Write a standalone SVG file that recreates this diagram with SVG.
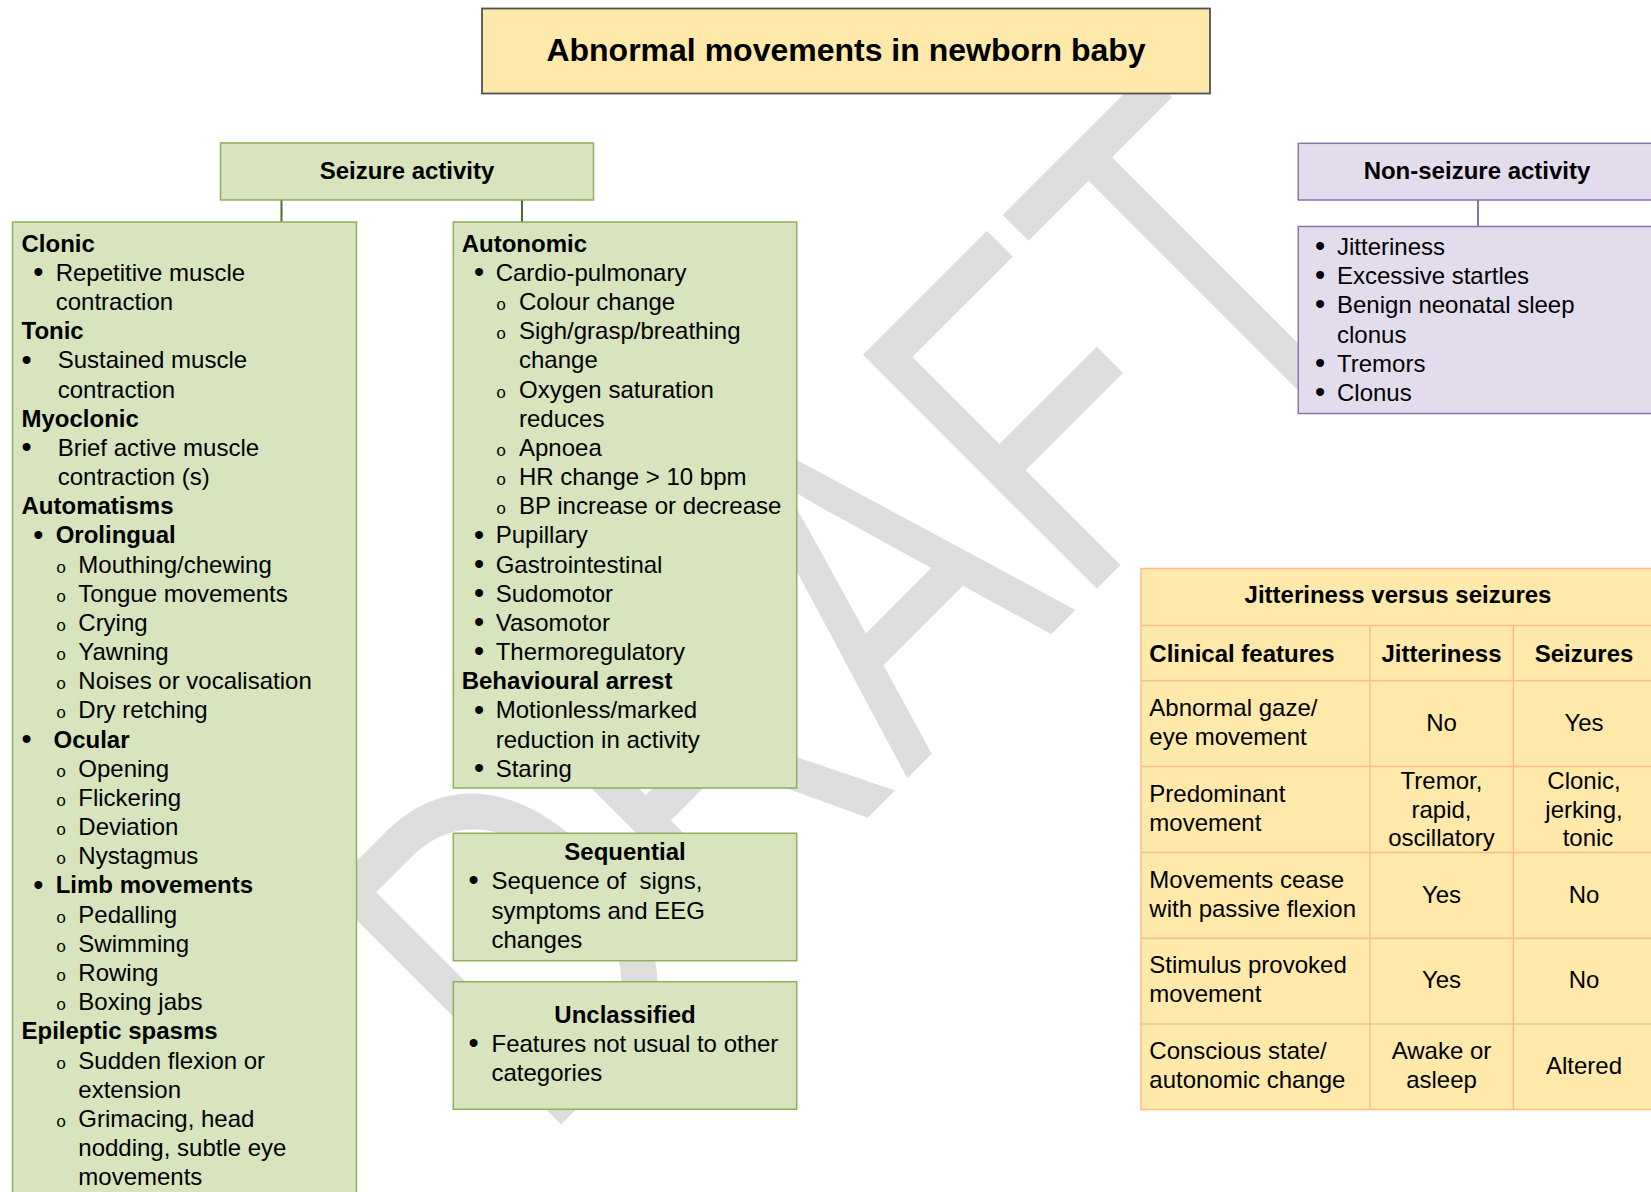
<svg xmlns="http://www.w3.org/2000/svg" width="1651" height="1192" viewBox="0 0 1651 1192">
<style>
text{font-family:"Liberation Sans",Arial,sans-serif;fill:#000;font-size:24px}
.b{font-weight:bold}
.c{text-anchor:middle}
.o{font-family:"Liberation Mono","Courier New",monospace;font-size:17px;text-anchor:middle}
.d{text-anchor:middle;font-size:29px}
.g{fill:#d7e4bd;stroke:#8fb05a;stroke-width:1.5}
.p{fill:#e2dced;stroke:#8a72ac;stroke-width:1.5}
.y{fill:#fee9aa;stroke:#f9bd8c;stroke-width:1.5}
.ln{stroke:#f9bd8c;stroke-width:1.5}
.con{stroke:#4f6a2b;stroke-width:2;fill:none}
.conp{stroke:#8a72ac;stroke-width:2;fill:none}
.wm{font-family:"Liberation Sans",Arial,sans-serif;font-size:481px;fill:#dddddd;font-kerning:none}
</style>

<g id="watermark">
<text class="wm" transform="translate(540.3,1145.3) rotate(-45) scale(0.746,1)">DRAFT</text>
</g>

<g id="connectors">
<line class="con" x1="281.5" y1="200" x2="281.5" y2="222"/>
<line class="con" x1="522" y1="200" x2="522" y2="222"/>
<line class="conp" x1="1478" y1="200" x2="1478" y2="226.5"/>
</g>

<g id="title">
<rect x="482" y="8.5" width="728" height="85" fill="#fee9aa" stroke="#505050" stroke-width="1.8"/>
<text class="b c" x="846" y="61" style="font-size:32px">Abnormal movements in newborn baby</text>
</g>

<g id="seizure-activity">
<rect class="g" x="220.5" y="143" width="373" height="57"/>
<text class="b c" x="407" y="179">Seizure activity</text>
</g>

<g id="seizure-left">
<rect class="g" x="12.5" y="222" width="344" height="990"/>
<text class="b" x="21.5" y="251.7">Clonic</text>
<text class="d" x="38.3" y="282">•</text><text x="55.7" y="280.9">Repetitive muscle</text>
<text x="55.7" y="310">contraction</text>
<text class="b" x="21.5" y="339.2">Tonic</text>
<text class="d" x="26.5" y="369.5">•</text><text x="57.7" y="368.4">Sustained muscle</text>
<text x="57.7" y="397.6">contraction</text>
<text class="b" x="21.5" y="426.7">Myoclonic</text>
<text class="d" x="26.5" y="457">•</text><text x="57.7" y="455.9">Brief active muscle</text>
<text x="57.7" y="485.1">contraction (s)</text>
<text class="b" x="21.5" y="514.2">Automatisms</text>
<text class="d" x="38.3" y="544.5">•</text><text class="b" x="55.7" y="543.4">Orolingual</text>
<text class="o" x="61" y="572.6">o</text><text x="78.3" y="572.6">Mouthing/chewing</text>
<text class="o" x="61" y="601.7">o</text><text x="78.3" y="601.7">Tongue movements</text>
<text class="o" x="61" y="630.9">o</text><text x="78.3" y="630.9">Crying</text>
<text class="o" x="61" y="660.1">o</text><text x="78.3" y="660.1">Yawning</text>
<text class="o" x="61" y="689.3">o</text><text x="78.3" y="689.3">Noises or vocalisation</text>
<text class="o" x="61" y="718.4">o</text><text x="78.3" y="718.4">Dry retching</text>
<text class="d" x="26.5" y="748.7">•</text><text class="b" x="53.5" y="747.6">Ocular</text>
<text class="o" x="61" y="776.8">o</text><text x="78.3" y="776.8">Opening</text>
<text class="o" x="61" y="805.9">o</text><text x="78.3" y="805.9">Flickering</text>
<text class="o" x="61" y="835.1">o</text><text x="78.3" y="835.1">Deviation</text>
<text class="o" x="61" y="864.3">o</text><text x="78.3" y="864.3">Nystagmus</text>
<text class="d" x="38.3" y="894.5">•</text><text class="b" x="55.7" y="893.4">Limb movements</text>
<text class="o" x="61" y="922.6">o</text><text x="78.3" y="922.6">Pedalling</text>
<text class="o" x="61" y="951.8">o</text><text x="78.3" y="951.8">Swimming</text>
<text class="o" x="61" y="981">o</text><text x="78.3" y="981">Rowing</text>
<text class="o" x="61" y="1010.1">o</text><text x="78.3" y="1010.1">Boxing jabs</text>
<text class="b" x="21.5" y="1039.3">Epileptic spasms</text>
<text class="o" x="61" y="1068.5">o</text><text x="78.3" y="1068.5">Sudden flexion or</text>
<text x="78.3" y="1097.6">extension</text>
<text class="o" x="61" y="1126.8">o</text><text x="78.3" y="1126.8">Grimacing, head</text>
<text x="78.3" y="1156">nodding, subtle eye</text>
<text x="78.3" y="1185.1">movements</text>
</g>

<g id="seizure-autonomic">
<rect class="g" x="453.3" y="222" width="343.4" height="566"/>
<text class="b" x="461.7" y="251.7">Autonomic</text>
<text class="d" x="479" y="282">•</text><text x="495.7" y="280.9">Cardio-pulmonary</text>
<text class="o" x="501" y="310">o</text><text x="519" y="310">Colour change</text>
<text class="o" x="501" y="339.2">o</text><text x="519" y="339.2">Sigh/grasp/breathing</text>
<text x="519" y="368.4">change</text>
<text class="o" x="501" y="397.6">o</text><text x="519" y="397.6">Oxygen saturation</text>
<text x="519" y="426.7">reduces</text>
<text class="o" x="501" y="455.9">o</text><text x="519" y="455.9">Apnoea</text>
<text class="o" x="501" y="485.1">o</text><text x="519" y="485.1">HR change &gt; 10 bpm</text>
<text class="o" x="501" y="514.2">o</text><text x="519" y="514.2">BP increase or decrease</text>
<text class="d" x="479" y="544.5">•</text><text x="495.7" y="543.4">Pupillary</text>
<text class="d" x="479" y="573.7">•</text><text x="495.7" y="572.6">Gastrointestinal</text>
<text class="d" x="479" y="602.8">•</text><text x="495.7" y="601.7">Sudomotor</text>
<text class="d" x="479" y="632">•</text><text x="495.7" y="630.9">Vasomotor</text>
<text class="d" x="479" y="661.2">•</text><text x="495.7" y="660.1">Thermoregulatory</text>
<text class="b" x="461.7" y="689.3">Behavioural arrest</text>
<text class="d" x="479" y="719.5">•</text><text x="495.7" y="718.4">Motionless/marked</text>
<text x="495.7" y="747.6">reduction in activity</text>
<text class="d" x="479" y="777.9">•</text><text x="495.7" y="776.8">Staring</text>
</g>

<g id="seizure-sequential">
<rect class="g" x="453.3" y="833.3" width="343.4" height="127.4"/>
<text class="b c" x="625" y="860.2">Sequential</text>
<text class="d" x="473.5" y="890.3">•</text><text x="491.5" y="889.2" xml:space="preserve" style="white-space:pre">Sequence of  signs,</text>
<text x="491.5" y="918.8">symptoms and EEG</text>
<text x="491.5" y="948.3">changes</text>
</g>

<g id="seizure-unclassified">
<rect class="g" x="453.3" y="981.7" width="343.4" height="127.6"/>
<text class="b c" x="625" y="1023.2">Unclassified</text>
<text class="d" x="473.5" y="1053.4">•</text><text x="491.5" y="1052.3">Features not usual to other</text>
<text x="491.5" y="1081.2">categories</text>
</g>

<g id="non-seizure-activity">
<rect class="p" x="1298.3" y="143.3" width="400" height="56.7"/>
<text class="b c" x="1477" y="179">Non-seizure activity</text>
</g>

<g id="non-seizure-list">
<rect class="p" x="1298.3" y="226.5" width="400" height="187"/>
<text class="d" x="1320" y="256.1">•</text><text x="1337" y="255">Jitteriness</text>
<text class="d" x="1320" y="285.3">•</text><text x="1337" y="284.2">Excessive startles</text>
<text class="d" x="1320" y="314.4">•</text><text x="1337" y="313.3">Benign neonatal sleep</text>
<text x="1337" y="342.5">clonus</text>
<text class="d" x="1320" y="372.8">•</text><text x="1337" y="371.7">Tremors</text>
<text class="d" x="1320" y="402">•</text><text x="1337" y="400.9">Clonus</text>
</g>

<g id="jitteriness-table">
<rect class="y" x="1141" y="568.5" width="514" height="541"/>
<line class="ln" x1="1141" y1="625.5" x2="1655" y2="625.5"/>
<line class="ln" x1="1141" y1="680.7" x2="1655" y2="680.7"/>
<line class="ln" x1="1141" y1="766.5" x2="1655" y2="766.5"/>
<line class="ln" x1="1141" y1="852.5" x2="1655" y2="852.5"/>
<line class="ln" x1="1141" y1="938.3" x2="1655" y2="938.3"/>
<line class="ln" x1="1141" y1="1024" x2="1655" y2="1024"/>
<line class="ln" x1="1370" y1="625.5" x2="1370" y2="1109.5"/>
<line class="ln" x1="1513.3" y1="625.5" x2="1513.3" y2="1109.5"/>
<text class="b c" x="1398" y="603.3">Jitteriness versus seizures</text>
<text class="b" x="1149.3" y="661.7">Clinical features</text>
<text class="b c" x="1441.5" y="661.7">Jitteriness</text>
<text class="b c" x="1584" y="661.7">Seizures</text>
<text x="1149.3" y="716">Abnormal gaze/</text>
<text x="1149.3" y="745">eye movement</text>
<text class="c" x="1441.5" y="730.7">No</text>
<text class="c" x="1584" y="730.7">Yes</text>
<text x="1149.3" y="801.7">Predominant</text>
<text x="1149.3" y="830.7">movement</text>
<text class="c" x="1441.5" y="789.3">Tremor,</text>
<text class="c" x="1441.5" y="817.7">rapid,</text>
<text class="c" x="1441.5" y="846">oscillatory</text>
<text class="c" x="1584" y="789.3">Clonic,</text>
<text class="c" x="1584" y="817.7">jerking,</text>
<text class="c" x="1588" y="846">tonic</text>
<text x="1149.3" y="888.3">Movements cease</text>
<text x="1149.3" y="916.7">with passive flexion</text>
<text class="c" x="1441.5" y="903.3">Yes</text>
<text class="c" x="1584" y="903.3">No</text>
<text x="1149.3" y="973.3">Stimulus provoked</text>
<text x="1149.3" y="1001.7">movement</text>
<text class="c" x="1441.5" y="987.7">Yes</text>
<text class="c" x="1584" y="987.7">No</text>
<text x="1149.3" y="1059.3">Conscious state/</text>
<text x="1149.3" y="1087.7">autonomic change</text>
<text class="c" x="1441.5" y="1059.3">Awake or</text>
<text class="c" x="1441.5" y="1087.7">asleep</text>
<text class="c" x="1584" y="1074">Altered</text>
</g>
</svg>
